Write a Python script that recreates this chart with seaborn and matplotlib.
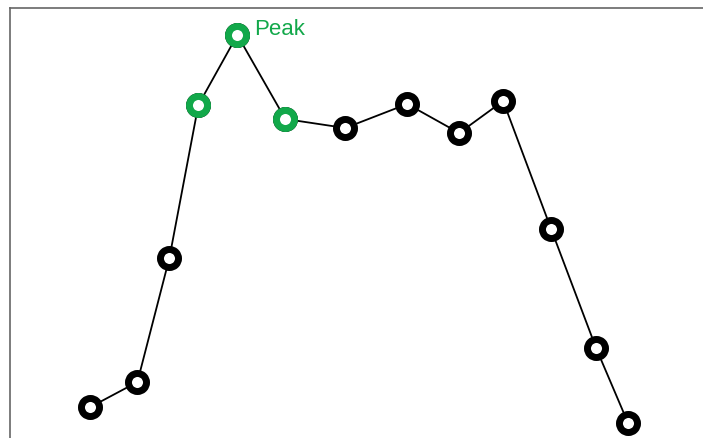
import numpy as np
import pandas as pd
import seaborn as sns
import matplotlib.pyplot as plt

# values (x positions are uneven)
x_vals = [81, 128, 160, 189, 228, 276, 336, 398, 450, 494, 542, 587, 619]
y_vals = [31, 56, 180, 333, 403, 319, 310, 334, 305, 337, 209, 90, 15]
highlight_idx = [3, 4, 5]
peak_label = "Peak"

green = "#12a84a"

df = pd.DataFrame({"x": x_vals, "y": y_vals})
hl = df.iloc[highlight_idx]
peak = df.loc[df["y"].idxmax()]

sns.set_style("white")
plt.rcParams["font.family"] = ["Liberation Sans", "DejaVu Sans"]

fig = plt.figure(figsize=(7.03, 4.39), dpi=100)
ax = fig.add_axes([9.5 / 703, 0, 1 - 9.5 / 703, 1 - 9 / 439])

sns.lineplot(data=df, x="x", y="y", ax=ax, color="black", linewidth=1.3,
             marker="o", markersize=13, markerfacecolor="white",
             markeredgecolor="black", markeredgewidth=5, sort=False)
sns.lineplot(data=hl, x="x", y="y", ax=ax, linestyle="", marker="o",
             markersize=13, markerfacecolor="white", markeredgecolor=green,
             markeredgewidth=5, sort=False)

ax.annotate(peak_label, xy=(peak["x"], peak["y"]), xytext=(12, 0.5),
            textcoords="offset points", ha="left", va="baseline",
            color=green, fontsize=16)

ax.set_xlim(0, 694)
ax.set_ylim(0, 430)
ax.set_xticks([])
ax.set_yticks([])
ax.set_xlabel("")
ax.set_ylabel("")
for side in ["right", "bottom"]:
    ax.spines[side].set_visible(False)
for side in ["left", "top"]:
    ax.spines[side].set_color("#666666")
    ax.spines[side].set_linewidth(1.2)

plt.savefig("out.png", dpi=100)
plt.close()
